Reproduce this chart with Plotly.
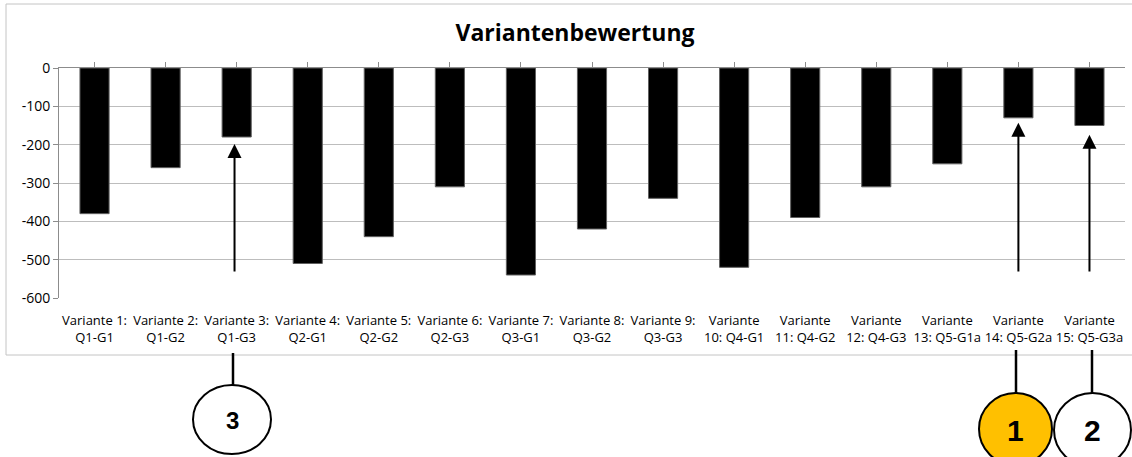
import plotly.graph_objects as go

categories = [
    "Variante 1:<br>Q1-G1", "Variante 2:<br>Q1-G2", "Variante 3:<br>Q1-G3",
    "Variante 4:<br>Q2-G1", "Variante 5:<br>Q2-G2", "Variante 6:<br>Q2-G3",
    "Variante 7:<br>Q3-G1", "Variante 8:<br>Q3-G2", "Variante 9:<br>Q3-G3",
    "Variante<br>10: Q4-G1", "Variante<br>11: Q4-G2", "Variante<br>12: Q4-G3",
    "Variante<br>13: Q5-G1a", "Variante<br>14: Q5-G2a", "Variante<br>15: Q5-G3a",
]
values = [-380, -260, -180, -510, -440, -310, -540, -420, -340, -520, -390, -310, -250, -130, -150]
y_ticks = [0, -100, -200, -300, -400, -500, -600]

# callouts: (category index, arrow tip value, arrow tail value)
arrows = [(1.97, -198, -535), (13.0, -143, -535), (14.0, -174, -535)]
callout_labels = ["3", "1", "2"]

W, H = 1132, 457
L, R, T, B = 59, 7, 68, 159
PW, PH = W - L - R, H - T - B


def px(x):
    return (x - L) / PW


def py(y):
    return (H - B - y) / PH


fig = go.Figure()
fig.add_trace(go.Bar(
    x=categories, y=values, width=0.41,
    marker=dict(color="black", line=dict(color="#606060", width=1)),
    hoverinfo="x+y", showlegend=False,
))
fig.add_trace(go.Scatter(
    x=categories, y=values, xaxis="x2", mode="markers",
    marker=dict(opacity=0), hoverinfo="skip", showlegend=False,
))

shapes = []
shapes.append(dict(type="rect", xref="paper", yref="paper",
                   x0=px(6), x1=px(1145), y0=py(355), y1=py(4),
                   line=dict(color="#c4c4c4", width=1), fillcolor="rgba(0,0,0,0)", layer="below"))
circles = [
    dict(x0=193, x1=271, y0=385, y1=454, fill="white", lx=233, ly0=353, ly1=385),
    dict(x0=979, x1=1052, y0=393, y1=465, fill="#FFC000", lx=1016, ly0=350, ly1=393),
    dict(x0=1054, x1=1131, y0=393, y1=467, fill="white", lx=1092, ly0=350, ly1=393),
]
for c in circles:
    shapes.append(dict(type="line", xref="paper", yref="paper",
                       x0=px(c["lx"]), x1=px(c["lx"]), y0=py(c["ly0"]), y1=py(c["ly1"]),
                       line=dict(color="black", width=2.5)))
    shapes.append(dict(type="circle", xref="paper", yref="paper",
                       x0=px(c["x0"]), x1=px(c["x1"]), y0=py(c["y1"]), y1=py(c["y0"]),
                       line=dict(color="black", width=2), fillcolor=c["fill"]))

annotations = []
for (xi, tip, tail) in arrows:
    annotations.append(dict(x=xi, y=tip, ax=xi, ay=tail, xref="x", yref="y",
                            axref="x", ayref="y", text="", showarrow=True,
                            arrowhead=2, arrowwidth=2, arrowsize=1.4, arrowcolor="black"))
label_pos = [(232, 420, 24), (1015, 430, 30), (1092, 430, 30)]
for lab, (lx, ly, fs) in zip(callout_labels, label_pos):
    annotations.append(dict(x=px(lx), y=py(ly), xref="paper", yref="paper", text="<b>%s</b>" % lab,
                            showarrow=False, font=dict(family="Liberation Sans", size=fs, color="black"),
                            xanchor="center", yanchor="middle"))

fig.update_layout(
    width=W, height=H,
    margin=dict(l=L, r=R, t=T, b=B, pad=0),
    paper_bgcolor="white", plot_bgcolor="white",
    title=dict(text="<b>Variantenbewertung</b>", x=575 / W, xanchor="center",
               y=1 - 33 / H, yanchor="middle", yref="container",
               font=dict(family="Open Sans", size=23, color="black")),
    font=dict(family="Open Sans", size=13, color="black"),
    xaxis=dict(type="category", range=[-0.5, 14.5], showline=False, showgrid=False,
               ticks="", tickfont=dict(family="Open Sans", size=13, color="black"),
               tickangle=0, zeroline=False, ticklabelstandoff=13),
    xaxis2=dict(type="category", overlaying="x", side="top", range=[-0.5, 14.5],
                showline=True, linecolor="#8c8c8c", linewidth=1, ticks="outside", ticklen=5,
                tickcolor="#8c8c8c", showticklabels=False, showgrid=False, zeroline=False),
    yaxis=dict(range=[-600, 0], tickvals=y_ticks, ticktext=[str(v) for v in y_ticks],
               showgrid=True, gridcolor="#bdbdbd", gridwidth=1,
               showline=True, linecolor="#8c8c8c", linewidth=1,
               ticks="outside", ticklen=5, tickcolor="#8c8c8c",
               zeroline=False, tickfont=dict(family="Open Sans", size=14, color="black")),
    shapes=shapes,
    annotations=annotations,
    showlegend=False,
)

fig.write_html("out.html", config={"displayModeBar": False},
               post_script="document.body.style.margin='0px';document.body.style.padding='0px';")
